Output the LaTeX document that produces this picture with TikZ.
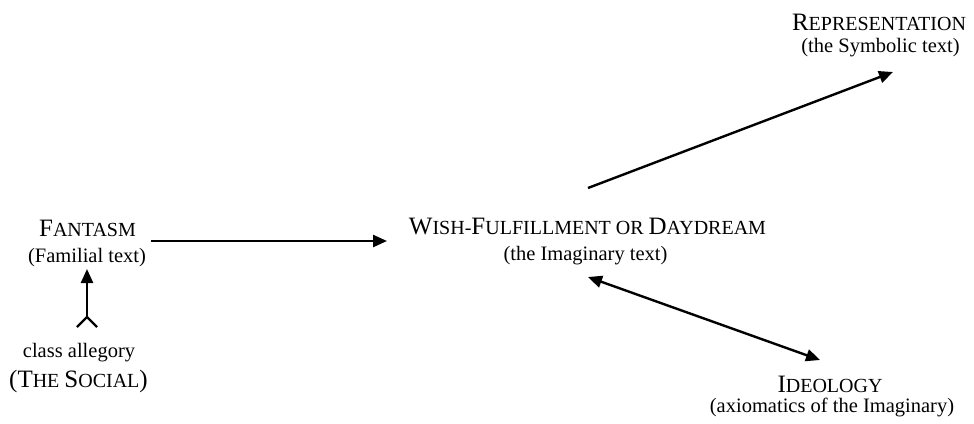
\documentclass[tikz,border=0pt]{standalone}
\usepackage{fontspec}
\setmainfont{Liberation Serif}
\usetikzlibrary{arrows.meta}

% large initial capital and reduced capitals for small-cap headings
\newcommand\capL[1]{{\fontsize{25}{30}\selectfont #1}}
\newcommand\capS[1]{{\fontsize{20}{24}\selectfont #1}}

\begin{document}
\begin{tikzpicture}[x=1pt,y=-1pt,
  lbl/.style={inner sep=0pt,anchor=base,font=\fontsize{20.5}{24}\selectfont},
  conn/.style={line width=2.4pt,-{Triangle[length=14pt,width=12pt]}},
  dconn/.style={line width=2.4pt,{Triangle[length=14pt,width=12pt]}-{Triangle[length=14pt,width=12pt]}}]
\useasboundingbox (0,0) rectangle (974,423);

% headings and subtitles
\node[lbl] (fanT) at (87.5,236.7) {\capL{F}\capS{ANTASM}};
\node[lbl] (fanS) at (87,262) {(Familial text)};

\node[lbl] (wishT) at (587.5,234.3) {\capL{W}\capS{ISH-}\capL{F}\capS{ULFILLMENT OR }\capL{D}\capS{AYDREAM}};
\node[lbl] (wishS) at (585.5,260) {(the Imaginary text)};

\node[lbl] (repT) at (879,30.7) {\capL{R}\capS{EPRESENTATION}};
\node[lbl] (repS) at (880.5,52.3) {(the Symbolic text)};

\node[lbl] (ideoT) at (830,392.3) {\capL{I}\capS{DEOLOGY}};
\node[lbl] (ideoS) at (832,412) {(axiomatics of the Imaginary)};

\node[lbl] (clsA) at (79,357) {class allegory};
\node[lbl] (clsS) at (78.5,387) {\capL{(T}\capS{HE }\capL{S}\capS{OCIAL}\capL{)}};

% connector end points
\coordinate (fanOut) at (151,241);
\coordinate (wishIn) at (387,241);
\coordinate (wishUp) at (588,188);
\coordinate (repIn) at (893,72);
\coordinate (wishDn) at (588,277);
\coordinate (ideoIn) at (820,360);
\coordinate (fanIn) at (87,269);
\coordinate (clsOut) at (87,317);
\coordinate (forkL) at (77,327);
\coordinate (forkR) at (97,327);

% connectors
\draw[conn] (fanOut) -- (wishIn);
\draw[conn] (wishUp) -- (repIn);
\draw[dconn] (wishDn) -- (ideoIn);
\draw[conn] (clsOut) -- (fanIn);
\draw[line width=2.4pt] (forkL) -- (clsOut) -- (forkR);
\end{tikzpicture}
\end{document}
